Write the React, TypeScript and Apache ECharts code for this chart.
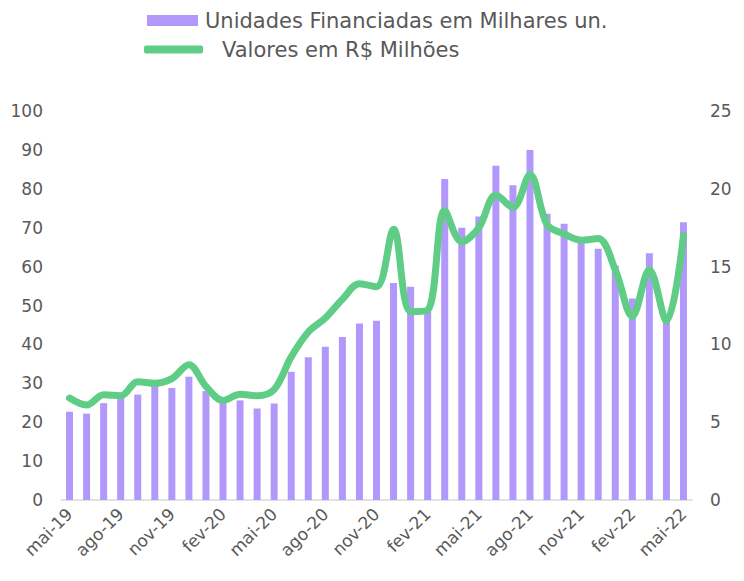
import React, { useEffect, useRef } from "react";
import * as echarts from "echarts";

const months = [
  "mai-19", "jun-19", "jul-19", "ago-19", "set-19", "out-19", "nov-19", "dez-19",
  "jan-20", "fev-20", "mar-20", "abr-20", "mai-20", "jun-20", "jul-20", "ago-20",
  "set-20", "out-20", "nov-20", "dez-20", "jan-21", "fev-21", "mar-21", "abr-21",
  "mai-21", "jun-21", "jul-21", "ago-21", "set-21", "out-21", "nov-21", "dez-21",
  "jan-22", "fev-22", "mar-22", "abr-22", "mai-22",
];

const unidades = [
  22.7, 22.2, 24.9, 26.2, 27.1, 29.6, 28.8, 31.7, 28.0, 25.0, 25.6, 23.5, 24.8,
  33.0, 36.7, 39.4, 41.9, 45.4, 46.1, 55.8, 54.8, 49.0, 82.5, 70.0, 72.9, 85.9,
  80.9, 90.0, 73.6, 71.0, 66.5, 64.6, 60.3, 51.8, 63.4, 46.0, 71.4,
];

const valores = [
  6.55, 6.1, 6.76, 6.7, 7.6, 7.5, 7.8, 8.7, 7.3, 6.4, 6.8, 6.7, 7.1, 9.2, 10.8,
  11.7, 12.9, 13.9, 13.7, 17.4, 12.1, 12.2, 18.6, 16.6, 17.5, 19.6, 18.8, 20.9,
  17.7, 17.1, 16.7, 16.8, 14.8, 11.8, 14.8, 11.5, 17.0,
];

const leftTicks = { min: 0, max: 100, interval: 10 };
const rightTicks = { min: 0, max: 25, interval: 5 };

const seriesNames = ["Unidades Financiadas em Milhares un.", "Valores em R$ Milhões"];

const FONT = "DejaVu Sans";
const TXT = "#595959";

export default function App() {
  const ref = useRef<HTMLDivElement>(null);
  useEffect(() => {
    if (!ref.current) return;
    const chart = echarts.init(ref.current, undefined, { renderer: "svg" });
    chart.setOption({
      animation: false,
      textStyle: { fontFamily: FONT, color: TXT },
      legend: [
        {
          data: [seriesNames[0]],
          left: 142,
          top: 5,
          itemWidth: 51,
          itemHeight: 11,
          itemGap: 0,
          icon: "rect",
          textStyle: { fontFamily: FONT, fontSize: 21, color: TXT, padding: [0, 0, 0, 2] },
          selectedMode: false,
        },
        {
          data: [seriesNames[1]],
          left: 139,
          top: 34,
          itemWidth: 59,
          itemHeight: 8,
          icon: "roundRect",
          textStyle: { fontFamily: FONT, fontSize: 21, color: TXT, padding: [0, 0, 0, 14] },
          selectedMode: false,
        },
      ],
      grid: { left: 61, right: 52, top: 111, bottom: 81, containLabel: false },
      xAxis: {
        type: "category",
        data: months,
        boundaryGap: true,
        axisLine: { lineStyle: { color: "#D9D9D9", width: 1.5 } },
        axisTick: { interval: 2, length: 6, lineStyle: { color: "#D9D9D9", width: 1.5 } },
        axisLabel: {
          interval: 2,
          rotate: 45,
          fontSize: 17,
          fontFamily: FONT,
          color: TXT,
          margin: 11,
        },
      },
      yAxis: [
        {
          type: "value",
          ...leftTicks,
          splitLine: { show: false },
          axisLine: { show: false },
          axisTick: { show: false },
          axisLabel: { fontSize: 17, fontFamily: FONT, color: TXT, margin: 18 },
        },
        {
          type: "value",
          ...rightTicks,
          splitLine: { show: false },
          axisLine: { show: false },
          axisTick: { show: false },
          axisLabel: { fontSize: 17, fontFamily: FONT, color: TXT, margin: 18 },
        },
      ],
      series: [
        {
          name: seriesNames[0],
          type: "bar",
          data: unidades,
          barWidth: 7,
          itemStyle: { color: "#B398FB" },
          yAxisIndex: 0,
        },
        {
          name: seriesNames[1],
          type: "line",
          data: valores,
          yAxisIndex: 1,
          smooth: 0.35,
          symbol: "none",
          lineStyle: { color: "#5FCD85", width: 7, cap: "round", join: "round" },
          itemStyle: { color: "#5FCD85" },
        },
      ],
    });
    return () => chart.dispose();
  }, []);
  return <div ref={ref} style={{ width: 744, height: 581, position: "absolute", left: 0, top: 0 }} />;
}
